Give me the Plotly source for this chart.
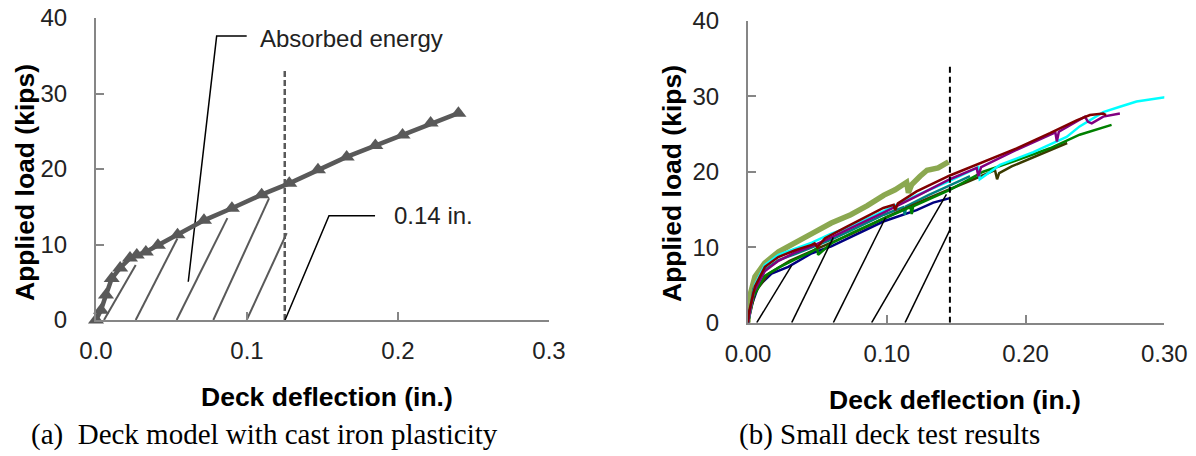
import plotly.graph_objects as go

# ---------------- data: panel (a) ----------------
model_x = [0, 0.0033, 0.0066, 0.0104, 0.016, 0.0225, 0.027, 0.033, 0.041, 0.054, 0.0715,
           0.090, 0.1097, 0.128, 0.147, 0.166, 0.185, 0.203, 0.2216, 0.240]
model_y = [0, 1.3, 3.3, 5.5, 6.9, 8.2, 8.6, 9.0, 9.9, 11.3, 13.2,
           14.8, 16.6, 18.1, 19.9, 21.6, 23.1, 24.5, 26.1, 27.4]
hatch_a_x0 = [0.0053, 0.0263, 0.0534, 0.0777, 0.0998]
hatch_a_x1 = [0.0263, 0.0539, 0.0870, 0.1146, 0.1263]
hatch_a_y1 = [7.3, 10.8, 13.5, 16.1, 11.5]
limit_a_x = 0.125
limit_a_top = 33.1
energy_leader_x = [0.0611, 0.0799, 0.0998]
energy_leader_y = [5.07, 37.6, 37.6]
limit_leader_x = [0.1252, 0.1543, 0.1848]
limit_leader_y = [0, 13.8, 13.8]

# ---------------- data: panel (b) ----------------
tests = {
    "olive": ([0, 0.0002, 0.005, 0.012, 0.022, 0.034, 0.046, 0.060, 0.074, 0.086, 0.098, 0.106,
               0.1135, 0.1143, 0.1156, 0.118, 0.124, 0.129, 0.137, 0.1445],
              [0, 2.8, 6.1, 7.9, 9.4, 10.5, 11.8, 13.2, 14.3, 15.5, 16.9, 17.6,
               18.5, 18.6, 17.2, 18.3, 19.4, 20.2, 20.5, 21.3]),
    "navy": ([0, 0.0014, 0.0074, 0.017, 0.029, 0.046, 0.060, 0.075, 0.0975, 0.1215, 0.1335, 0.1455],
             [0, 1.7, 4.8, 6.5, 7.4, 9.2, 10.1, 11.4, 13.4, 14.9, 15.9, 16.5]),
    "teal": ([0, 0.004, 0.012, 0.022, 0.034, 0.046, 0.060, 0.075, 0.098, 0.112, 0.113, 0.114,
              0.13, 0.1455, 0.16],
             [0, 4.5, 7.0, 8.3, 9.1, 10.0, 11.0, 12.3, 14.3, 15.3, 14.3, 15.4,
              16.9, 18.2, 19.4]),
    "darkolive": ([0, 0.005, 0.015, 0.03, 0.05, 0.075, 0.1, 0.13, 0.16, 0.178, 0.1795, 0.181,
                   0.19, 0.21, 0.23],
                  [0, 4.0, 6.5, 8.2, 9.8, 11.8, 14.0, 16.5, 18.8, 20.2, 19.0, 19.8,
                   20.7, 22.2, 23.8]),
    "green": ([0, 0.004, 0.012, 0.022, 0.034, 0.046, 0.0499, 0.0505, 0.06, 0.075, 0.098, 0.117,
               0.118, 0.119, 0.1455, 0.1695, 0.1936, 0.2176, 0.239, 0.2464, 0.262],
              [0, 3.5, 6.2, 7.3, 8.4, 9.4, 9.9, 9.0, 10.5, 11.9, 13.8, 15.3,
               14.4, 15.4, 17.6, 20.0, 21.5, 23.1, 24.9, 25.3, 26.2]),
    "cyan": ([0, 0.005, 0.012, 0.022, 0.034, 0.046, 0.060, 0.075, 0.098, 0.122, 0.1455, 0.160,
              0.166, 0.167, 0.1816, 0.2056, 0.2296, 0.239, 0.256, 0.268, 0.28, 0.3016],
             [0, 5.0, 7.6, 9.0, 9.8, 10.6, 11.8, 12.8, 14.8, 16.9, 18.8, 20.0,
              20.6, 19.0, 20.9, 22.6, 24.6, 26.0, 27.9, 28.6, 29.3, 29.9]),
    "purple": ([0, 0.004, 0.012, 0.022, 0.034, 0.046, 0.060, 0.075, 0.098, 0.122, 0.1455, 0.1648,
                0.166, 0.168, 0.19, 0.2215, 0.2226, 0.224, 0.2428, 0.245, 0.2477, 0.256, 0.268],
               [0, 4.0, 6.8, 8.2, 9.3, 10.1, 11.3, 12.6, 14.6, 16.8, 19.0, 20.5,
                19.4, 20.6, 22.6, 25.2, 24.0, 25.3, 27.3, 26.6, 26.4, 27.3, 27.7]),
    "maroon": ([0, 0.0005, 0.005, 0.0122, 0.0218, 0.034, 0.0459, 0.048, 0.050, 0.0555, 0.0699,
                0.0975, 0.105, 0.106, 0.108, 0.1215, 0.1455, 0.1695, 0.1936, 0.2176, 0.2368,
                0.2464, 0.256, 0.258],
               [0, 1.2, 4.8, 7.4, 8.7, 9.6, 10.3, 10.5, 10.0, 11.2, 12.6,
                15.2, 15.6, 14.9, 15.8, 17.4, 19.5, 21.3, 23.1, 25.1, 26.8,
                27.5, 27.7, 27.5]),
}
test_colors = {"olive": "#8BA850", "navy": "#000080", "teal": "#008080", "darkolive": "#3A3A00",
               "green": "#008000", "cyan": "#00FFFF", "purple": "#800080", "maroon": "#800000"}
test_widths = {"olive": 5.5, "navy": 2.5, "teal": 2.5, "darkolive": 2.5, "green": 2.5,
               "cyan": 2.5, "purple": 2.5, "maroon": 2.5}

hatch_b_x0 = [0.0063, 0.0315, 0.0615, 0.0891, 0.1132]
hatch_b_x1 = [0.0315, 0.0615, 0.0991, 0.1430, 0.1455]
hatch_b_y1 = [7.6, 11.3, 13.9, 17.0, 12.3]
limit_b_x = 0.1455
limit_b_top = 33.9

x_ticks_a = [0, 0.1, 0.2, 0.3]
x_ticks_b = [0, 0.1, 0.2, 0.3]
y_ticks = [0, 10, 20, 30, 40]

W, H = 1196, 456
AX = "#868686"
TICKFONT = dict(family="Liberation Sans, Arial", size=24, color="#222222")

fig = go.Figure()

# panel (a)
for x0, x1, y1 in zip(hatch_a_x0, hatch_a_x1, hatch_a_y1):
    fig.add_trace(go.Scatter(x=[x0, x1], y=[0, y1], mode="lines", xaxis="x", yaxis="y",
                             line=dict(color="#595959", width=2), hoverinfo="skip"))
fig.add_trace(go.Scatter(x=[limit_a_x, limit_a_x], y=[0, limit_a_top], mode="lines",
                         xaxis="x", yaxis="y", line=dict(color="#595959", width=2.5, dash="6px,3px")))
fig.add_trace(go.Scatter(x=energy_leader_x, y=energy_leader_y, mode="lines", xaxis="x", yaxis="y",
                         line=dict(color="black", width=1.5), cliponaxis=False))
fig.add_trace(go.Scatter(x=limit_leader_x, y=limit_leader_y, mode="lines", xaxis="x", yaxis="y",
                         line=dict(color="black", width=1.5), cliponaxis=False))
fig.add_trace(go.Scatter(x=model_x, y=model_y, mode="lines+markers", xaxis="x", yaxis="y",
                         line=dict(color="#595959", width=4.5),
                         marker=dict(symbol="triangle-up", size=14, color="#595959"),
                         cliponaxis=False))

# panel (b)
for name, (xs, ys) in tests.items():
    fig.add_trace(go.Scatter(x=xs, y=ys, mode="lines", xaxis="x2", yaxis="y2",
                             line=dict(color=test_colors[name], width=test_widths[name]),
                             cliponaxis=False))
for x0, x1, y1 in zip(hatch_b_x0, hatch_b_x1, hatch_b_y1):
    fig.add_trace(go.Scatter(x=[x0, x1], y=[0, y1], mode="lines", xaxis="x2", yaxis="y2",
                             line=dict(color="black", width=1.5), hoverinfo="skip"))
fig.add_trace(go.Scatter(x=[limit_b_x, limit_b_x], y=[0, limit_b_top], mode="lines",
                         xaxis="x2", yaxis="y2", line=dict(color="black", width=2, dash="6px,4px")))


def xax(domain, ticks, fmt, anchor):
    return dict(domain=domain, range=[0, 0.3], tickvals=ticks, tickformat=fmt, anchor=anchor,
                showline=True, linecolor=AX, linewidth=2, ticks="inside", ticklen=8,
                tickwidth=2, tickcolor=AX, showgrid=False, zeroline=False, automargin=False,
                tickfont=TICKFONT, ticklabelstandoff=8, fixedrange=True)


def yax(domain, anchor):
    return dict(domain=domain, range=[0, 40], tickvals=y_ticks, anchor=anchor,
                showline=True, linecolor=AX, linewidth=2, ticks="inside", ticklen=8,
                tickwidth=2, tickcolor=AX, showgrid=False, zeroline=False, automargin=False,
                tickfont=TICKFONT, ticklabelstandoff=22, fixedrange=True)


TITLEFONT = dict(family="Liberation Sans, Arial", size=26.5, color="black")
CAPFONT = dict(family="Liberation Serif, Times New Roman", size=29, color="black")
NOTEFONT = dict(family="Liberation Sans, Arial", size=24, color="#222222")

annotations = [
    dict(text="Absorbed energy", x=0.1075, y=37.3, xref="x", yref="y", xanchor="left",
         yanchor="middle", showarrow=False, font=NOTEFONT),
    dict(text="0.14 in.", x=0.196, y=13.8, xref="x", yref="y", xanchor="left",
         yanchor="middle", showarrow=False, font=NOTEFONT),
    dict(text="<b>Applied load (kips)</b>", x=25 / W, y=1 - 183 / H, xref="paper", yref="paper",
         textangle=-90, showarrow=False, font=TITLEFONT, xanchor="center", yanchor="middle"),
    dict(text="<b>Applied load (kips)</b>", x=672 / W, y=1 - 184 / H, xref="paper", yref="paper",
         textangle=-90, showarrow=False, font=TITLEFONT, xanchor="center", yanchor="middle"),
    dict(text="<b>Deck deflection (in.)</b>", x=327 / W, y=1 - 397 / H, xref="paper", yref="paper",
         showarrow=False, font=TITLEFONT, xanchor="center", yanchor="middle"),
    dict(text="<b>Deck deflection (in.)</b>", x=955 / W, y=1 - 400 / H, xref="paper", yref="paper",
         showarrow=False, font=TITLEFONT, xanchor="center", yanchor="middle"),
    dict(text="(a)  Deck model with cast iron plasticity", x=264 / W, y=1 - 434 / H, xref="paper",
         yref="paper", showarrow=False, font=CAPFONT, xanchor="center", yanchor="middle"),
    dict(text="(b) Small deck test results", x=889 / W, y=1 - 434 / H, xref="paper",
         yref="paper", showarrow=False, font=CAPFONT, xanchor="center", yanchor="middle"),
]

fig.update_layout(
    width=W, height=H, margin=dict(l=0, r=0, t=0, b=0, autoexpand=False),
    paper_bgcolor="white", plot_bgcolor="white", showlegend=False,
    xaxis=xax([96 / W, 549 / W], x_ticks_a, ".1f", "y"),
    yaxis=yax([1 - 320 / H, 1 - 18 / H], "x"),
    xaxis2=xax([748 / W, 1164.3 / W], x_ticks_b, ".2f", "y2"),
    yaxis2=yax([1 - 322.7 / H, 1 - 20.7 / H], "x2"),
    annotations=annotations,
)

fig.write_html("out.html")
